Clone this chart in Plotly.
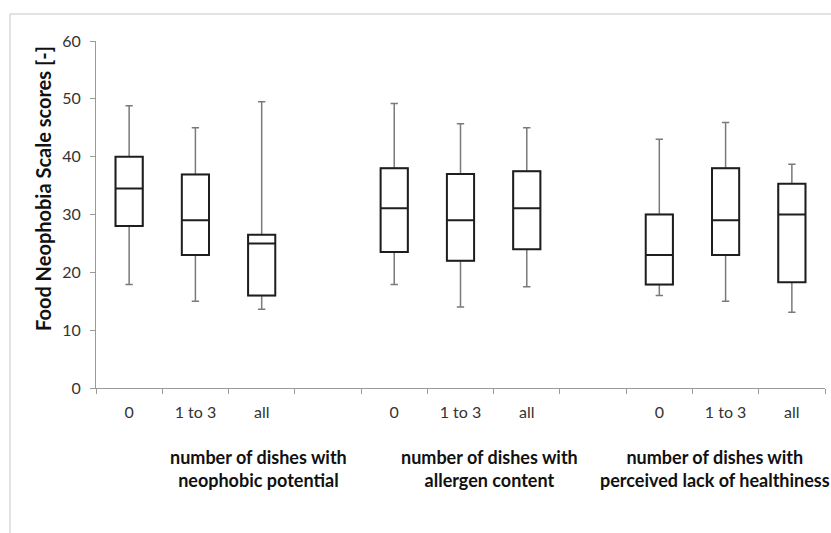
import plotly.graph_objects as go

# ---- data ----
levels = ["0", "1 to 3", "all"]
groups = ["number of dishes with<br>neophobic potential",
          "number of dishes with<br>allergen content",
          "number of dishes with<br>perceived lack of healthiness"]
lower_whisker = [17.9, 15.0, 13.6,  17.9, 14.0, 17.5,  16.0, 15.0, 13.1]
q1            = [28.0, 23.0, 16.0,  23.5, 22.0, 24.0,  17.9, 23.0, 18.3]
median        = [34.5, 29.0, 25.0,  31.1, 29.0, 31.1,  23.0, 29.0, 30.0]
q3            = [40.0, 36.9, 26.5,  38.0, 37.0, 37.5,  30.0, 38.0, 35.3]
upper_whisker = [48.8, 45.0, 49.5,  49.2, 45.7, 45.0,  43.0, 45.9, 38.7]
y_ticks = [0, 10, 20, 30, 40, 50, 60]

# positions: 3 boxes per group, one empty slot between groups
xpos = [g * 4 + i for g in range(len(groups)) for i in range(len(levels))]
xlabels = [levels[i] for g in range(len(groups)) for i in range(len(levels))]

fig = go.Figure()
# whiskers + box (grey)
fig.add_trace(go.Box(
    x=xpos, q1=q1, median=median, q3=q3,
    lowerfence=lower_whisker, upperfence=upper_whisker,
    width=0.41, whiskerwidth=0.27, fillcolor="white",
    line=dict(color="#7a7a7a", width=1.5), boxpoints=False,
    hoverinfo="skip", showlegend=False))
# box outline + median (dark) on top
fig.add_trace(go.Box(
    x=xpos, q1=q1, median=median, q3=q3,
    lowerfence=q1, upperfence=q3,
    width=0.41, whiskerwidth=0, fillcolor="white",
    line=dict(color="#1e1e1e", width=2), boxpoints=False,
    showlegend=False))

L, R, T, B = 96, 6, 41, 145
W, H = 831, 533
pw, ph = W - L - R, H - T - B

def px_to_paper_x(px):
    return (px - L) / pw

def px_to_paper_y(py):
    return (H - B - py) / ph

annotations = []
group_centers_px = [258, 490, 715]
for g, label in enumerate(groups):
    annotations.append(dict(
        text="<b>" + label + "</b>", xref="paper", yref="paper",
        x=px_to_paper_x(group_centers_px[g]), y=px_to_paper_y(468),
        xanchor="center", yanchor="middle", showarrow=False,
        font=dict(family="Lato", size=18, color="#111111"), align="center"))
annotations.append(dict(
    text="<b>Food Neophobia Scale scores [-]</b>", xref="paper", yref="paper",
    x=px_to_paper_x(43), y=px_to_paper_y(189), textangle=-90,
    xanchor="center", yanchor="middle", showarrow=False,
    font=dict(family="Lato", size=20, color="#111111")))

fig.update_layout(
    width=W, height=H,
    margin=dict(l=L, r=R, t=T, b=B, pad=0),
    paper_bgcolor="white", plot_bgcolor="white",
    font=dict(family="Lato", size=16, color="#333333"),
    annotations=annotations,
    shapes=[dict(type="rect", xref="paper", yref="paper",
                 x0=px_to_paper_x(10), x1=px_to_paper_x(900),
                 y0=px_to_paper_y(600), y1=px_to_paper_y(14),
                 line=dict(color="#d9d9d9", width=1.5), layer="below")],
)
fig.update_xaxes(
    range=[-0.5, 10.5], tickmode="array", tickvals=xpos, ticktext=xlabels,
    ticks="", showline=True, linecolor="#9a9a9a", linewidth=1,
    showgrid=False, zeroline=False, ticklabelstandoff=10,
    tickfont=dict(family="Lato", size=16, color="#333333"),
    minor=dict(ticks="outside", tick0=-0.5, dtick=1, ticklen=5,
               tickcolor="#9a9a9a", tickwidth=1, showgrid=False))
fig.update_yaxes(
    range=[0, 60], tickmode="array", tickvals=y_ticks,
    ticks="outside", ticklen=5, tickcolor="#9a9a9a",
    showline=True, linecolor="#9a9a9a", linewidth=1,
    showgrid=False, zeroline=False, ticklabelstandoff=6,
    tickfont=dict(family="Lato", size=16, color="#333333"))

fig.write_html("out.html", config={"displayModeBar": False},
               post_script="document.body.style.margin='0px';document.body.style.overflow='hidden';")
